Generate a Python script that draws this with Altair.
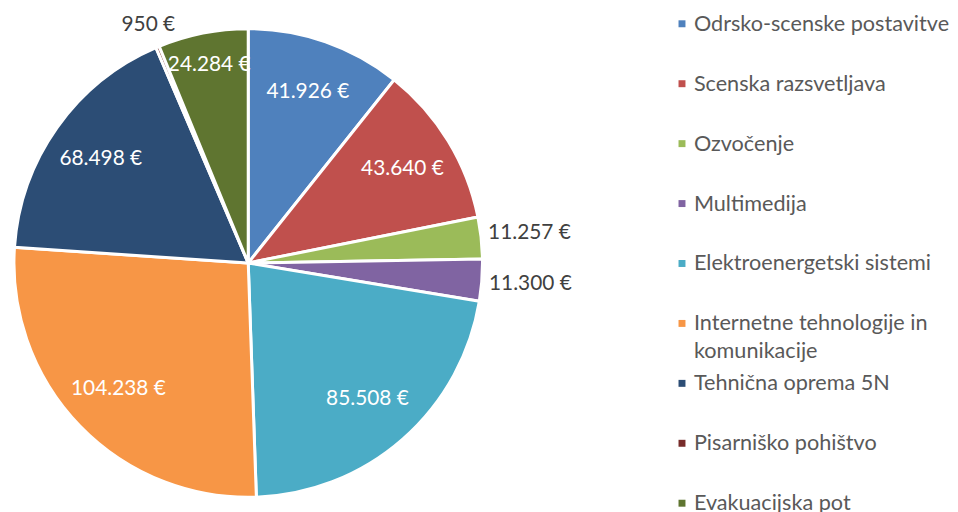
import altair as alt
import pandas as pd

categories = ["Odrsko-scenske postavitve", "Scenska razsvetljava", "Ozvočenje", "Multimedija",
              "Elektroenergetski sistemi", "Internetne tehnologije in komunikacije",
              "Tehnična oprema 5N", "Pisarniško pohištvo", "Evakuacijska pot"]
values = [41926, 43640, 11257, 11300, 85508, 104238, 68498, 950, 24284]
legend_labels = ["Odrsko-scenske postavitve", "Scenska razsvetljava", "Ozvočenje", "Multimedija",
                 "Elektroenergetski sistemi", "Internetne tehnologije in\nkomunikacije",
                 "Tehnična oprema 5N", "Pisarniško pohištvo", "Evakuacijska pot"]
colors = ["#4F81BD", "#C0504D", "#9BBB59", "#8064A2", "#4BACC6", "#F79646",
          "#2C4D75", "#772C2A", "#5F7530"]

FONT = "Lato"

df = pd.DataFrame({
    "cat": categories,
    "value": values,
    "idx": list(range(len(values))),
    "label": [f"{v:,}".replace(",", ".") + " €" for v in values],
})
legend_df = pd.DataFrame({"cat": categories, "label": legend_labels})

color_scale = alt.Scale(domain=categories, range=colors)

arcs = alt.Chart(df).mark_arc(radius=236, stroke="white", strokeWidth=3).encode(
    theta=alt.Theta("value:Q", stack=True),
    order=alt.Order("idx:Q"),
    color=alt.Color("cat:N", scale=color_scale, legend=None),
)

label_base = alt.Chart(df).transform_window(
    cum="sum(value)", sort=[alt.SortField("idx")], frame=[None, 0]
).transform_calculate(
    mid="datum.cum - datum.value / 2",
    lr="datum.value < 5000 ? 260 : (datum.value < 15000 ? 285 : (datum.value < 30000 ? 203 : 182))",
).encode(
    theta=alt.Theta("mid:Q", stack=None),
    radius=alt.Radius("lr:Q", scale=None),
    text="label:N",
)

inside = label_base.transform_filter("datum.value >= 15000").mark_text(
    fontSize=21, font=FONT, baseline="middle", align="center", color="white")
outside = label_base.transform_filter("datum.value < 15000").mark_text(
    fontSize=21, font=FONT, baseline="middle", align="center", color="#404040")

pie = alt.layer(arcs, inside, outside).properties(width=476, height=510)

ly = alt.Y("cat:N", sort=categories, axis=None,
           scale=alt.Scale(type="point", range=[14, 497], padding=0))

squares = alt.Chart(legend_df).mark_square(size=49, opacity=1).encode(
    x=alt.value(199),
    y=ly,
    color=alt.Color("cat:N", scale=color_scale, legend=None),
)
ltext = alt.Chart(legend_df).mark_text(
    align="left", baseline="alphabetic", dy=7, fontSize=21.8, font=FONT,
    color="#595959", lineBreak="\n", lineHeight=28
).encode(
    x=alt.value(211),
    y=ly,
    text="label:N",
)
legend = alt.layer(squares, ltext).properties(width=440, height=510)

chart = alt.hconcat(pie, legend, spacing=0, bounds="flush").properties(
    padding=0,
).configure_view(stroke=None)

chart.save("out.html", embed_options={"renderer": "svg", "actions": False})
